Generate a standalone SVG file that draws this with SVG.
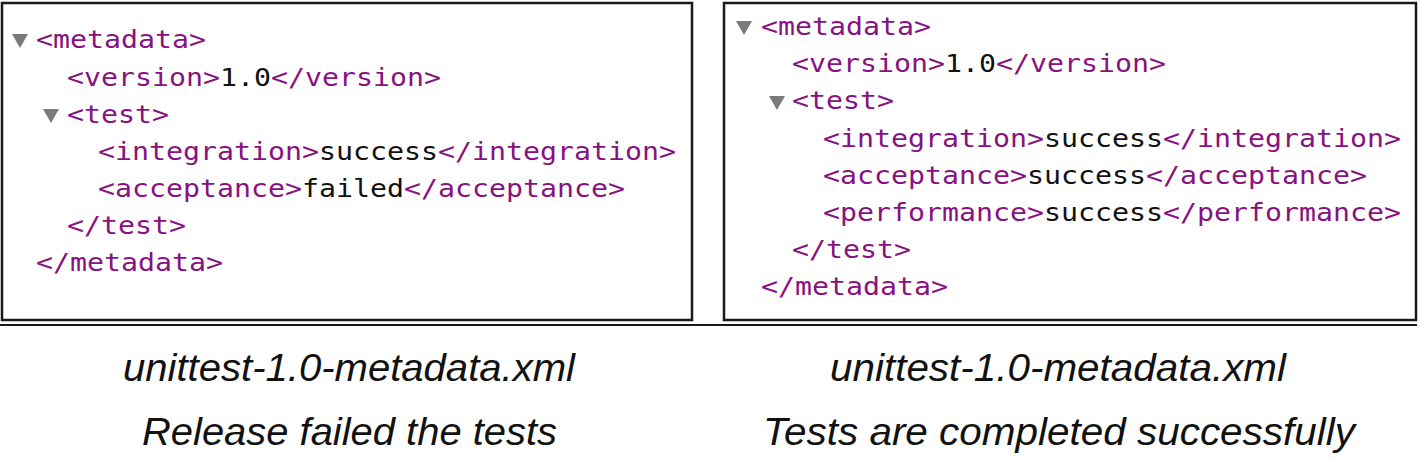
<svg xmlns="http://www.w3.org/2000/svg" width="1421" height="459" viewBox="0 0 1421 459">
<style>
.box{fill:#fff;stroke:#1a1a1a;stroke-width:2.5}
.code{font-family:"DejaVu Sans Mono","Liberation Mono",monospace;font-size:25px;fill:#881280}
.val{fill:#111}
.tri{fill:#7a7a7a}
.cap{font-family:"Liberation Sans",Arial,sans-serif;font-style:italic;font-size:38px;fill:#111;text-anchor:middle}
</style>
<rect width="1421" height="459" fill="#fff"/>
<g id="left-panel">
<rect class="box" x="2" y="3" width="690" height="317"/>
<polygon class="tri" points="12,34 28,34 20,48"/>
<polygon class="tri" points="43,109 59,109 51,123"/>
<text class="code" transform="translate(36 48) scale(1.13 1)">&lt;metadata&gt;</text>
<text class="code" transform="translate(67 86) scale(1.13 1)">&lt;version&gt;<tspan class="val">1.0</tspan>&lt;/version&gt;</text>
<text class="code" transform="translate(67 123) scale(1.13 1)">&lt;test&gt;</text>
<text class="code" transform="translate(98 160) scale(1.13 1)">&lt;integration&gt;<tspan class="val">success</tspan>&lt;/integration&gt;</text>
<text class="code" transform="translate(98 197) scale(1.13 1)">&lt;acceptance&gt;<tspan class="val">failed</tspan>&lt;/acceptance&gt;</text>
<text class="code" transform="translate(67 234) scale(1.13 1)">&lt;/test&gt;</text>
<text class="code" transform="translate(36 271) scale(1.13 1)">&lt;/metadata&gt;</text>
</g>
<g id="right-panel">
<rect class="box" x="724" y="3" width="692" height="317"/>
<polygon class="tri" points="736,21 752,21 744,35"/>
<polygon class="tri" points="769,96 785,96 777,110"/>
<text class="code" transform="translate(761 35) scale(1.13 1)">&lt;metadata&gt;</text>
<text class="code" transform="translate(792 72) scale(1.13 1)">&lt;version&gt;<tspan class="val">1.0</tspan>&lt;/version&gt;</text>
<text class="code" transform="translate(792 109) scale(1.13 1)">&lt;test&gt;</text>
<text class="code" transform="translate(823 147) scale(1.13 1)">&lt;integration&gt;<tspan class="val">success</tspan>&lt;/integration&gt;</text>
<text class="code" transform="translate(823 184) scale(1.13 1)">&lt;acceptance&gt;<tspan class="val">success</tspan>&lt;/acceptance&gt;</text>
<text class="code" transform="translate(823 221) scale(1.13 1)">&lt;performance&gt;<tspan class="val">success</tspan>&lt;/performance&gt;</text>
<text class="code" transform="translate(792 258) scale(1.13 1)">&lt;/test&gt;</text>
<text class="code" transform="translate(761 295) scale(1.13 1)">&lt;/metadata&gt;</text>
</g>
<g id="connectors">
<line x1="0" y1="325" x2="1417" y2="325" stroke="#1a1a1a" stroke-width="2"/>
</g>
<g id="captions">
<text class="cap" x="349" y="381" textLength="452" lengthAdjust="spacingAndGlyphs">unittest-1.0-metadata.xml</text>
<text class="cap" x="349.5" y="445" textLength="415" lengthAdjust="spacingAndGlyphs">Release failed the tests</text>
<text class="cap" x="1058" y="381" textLength="456" lengthAdjust="spacingAndGlyphs">unittest-1.0-metadata.xml</text>
<text class="cap" x="1059" y="445" textLength="592" lengthAdjust="spacingAndGlyphs">Tests are completed successfully</text>
</g>
</svg>
